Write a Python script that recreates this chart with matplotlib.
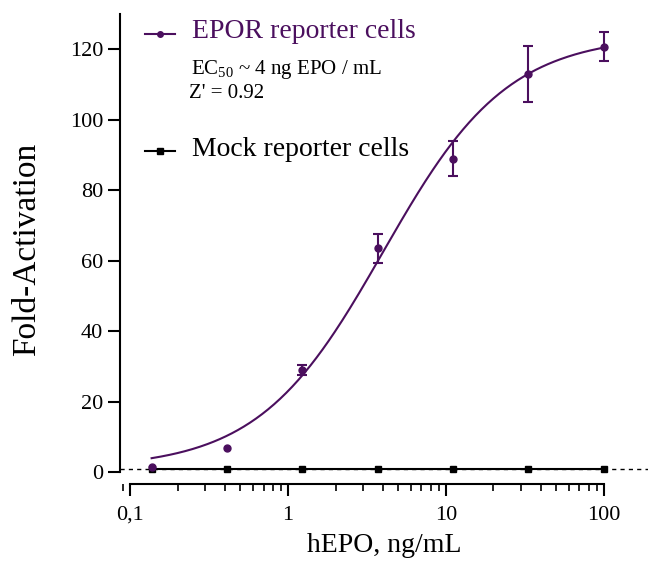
import numpy as np
import matplotlib
matplotlib.use('Agg')
import matplotlib.pyplot as plt

plt.rcParams['font.family'] = ['Liberation Serif', 'DejaVu Serif']
plt.rcParams['mathtext.fontset'] = 'custom'
plt.rcParams['mathtext.rm'] = 'Liberation Serif'
plt.rcParams['mathtext.it'] = 'Liberation Serif:italic'

# Data (3-fold dilutions of hEPO, ng/mL)
conc = [0.137, 0.412, 1.23, 3.70, 11.1, 33.3, 100.0]
epor = [1.4, 6.8, 29.0, 63.5, 89.0, 113.0, 120.8]
epor_err = [np.nan, np.nan, 1.5, 4.0, 5.0, 8.0, 4.2]  # first two hidden by markers
mock = [0.9, 0.9, 0.9, 0.9, 0.9, 0.9, 0.9]

# 4PL fit parameters
fit_bottom = 1.0
fit_top = 124.0
fit_ec50 = 4.0
fit_hill = 1.1

purple = '#4b0f5e'

fig = plt.figure(figsize=(6.51, 5.61), dpi=100)
ax = fig.add_axes([0.1843, 0.1366, 0.811, 0.838])

xf = np.logspace(np.log10(conc[0]), np.log10(conc[-1]), 300)
yf = fit_bottom + (fit_top - fit_bottom) / (1 + (fit_ec50 / xf) ** fit_hill)

ax.axhline(1, color='k', ls=(0, (3, 3)), lw=1)
ax.plot(xf, yf, color=purple, lw=1.5)
ax.errorbar(conc, epor, yerr=epor_err, fmt='o', color=purple, ms=5,
            capsize=3.5, elinewidth=1.5, capthick=1.5)
ax.plot(conc, mock, 's-', color='k', ms=5, lw=1.5)

ax.set_xscale('log')
ax.set_xlim(0.0864, 190)
ax.set_ylim(-3.5, 130)
ax.spines['top'].set_visible(False)
ax.spines['right'].set_visible(False)
ax.spines['left'].set_bounds(0, 130)
ax.spines['bottom'].set_bounds(0.1, 100)
ax.spines['left'].set_linewidth(1.5)
ax.spines['bottom'].set_linewidth(1.5)
ax.set_yticks([0, 20, 40, 60, 80, 100, 120])
ax.set_xticks([0.1, 1, 10, 100])
ax.set_xticklabels(['0,1', '1', '10', '100'])
ax.tick_params(axis='both', which='major', labelsize=16, width=1.5, length=8.5)
ax.tick_params(axis='x', which='major', pad=7)
ax.tick_params(axis='x', which='minor', width=1.2, length=5)
ax.xaxis.set_minor_formatter(plt.NullFormatter())

ax.set_xlabel('hEPO, ng/mL', fontsize=20, labelpad=6)
ax.set_ylabel('Fold-Activation', fontsize=24, labelpad=20)

# legend-like annotations
ax.plot([0.124, 0.193], [124.5, 124.5], color=purple, lw=1.5)
ax.plot([0.155], [124.5], 'o', color=purple, ms=4)
ax.text(0.247, 125, 'EPOR reporter cells', color=purple, fontsize=20, va='center')
ax.text(0.245, 114.3, r'EC$_{50}$ ~ 4 ng EPO / mL', fontsize=15, va='center')
ax.text(0.238, 107.5, "Z' = 0.92", fontsize=15, va='center')
ax.plot([0.124, 0.193], [91.2, 91.2], color='k', lw=1.5)
ax.plot([0.155], [91.2], 's', color='k', ms=4)
ax.text(0.247, 91.5, 'Mock reporter cells', color='k', fontsize=20, va='center')

fig.savefig('out.png', dpi=100)
